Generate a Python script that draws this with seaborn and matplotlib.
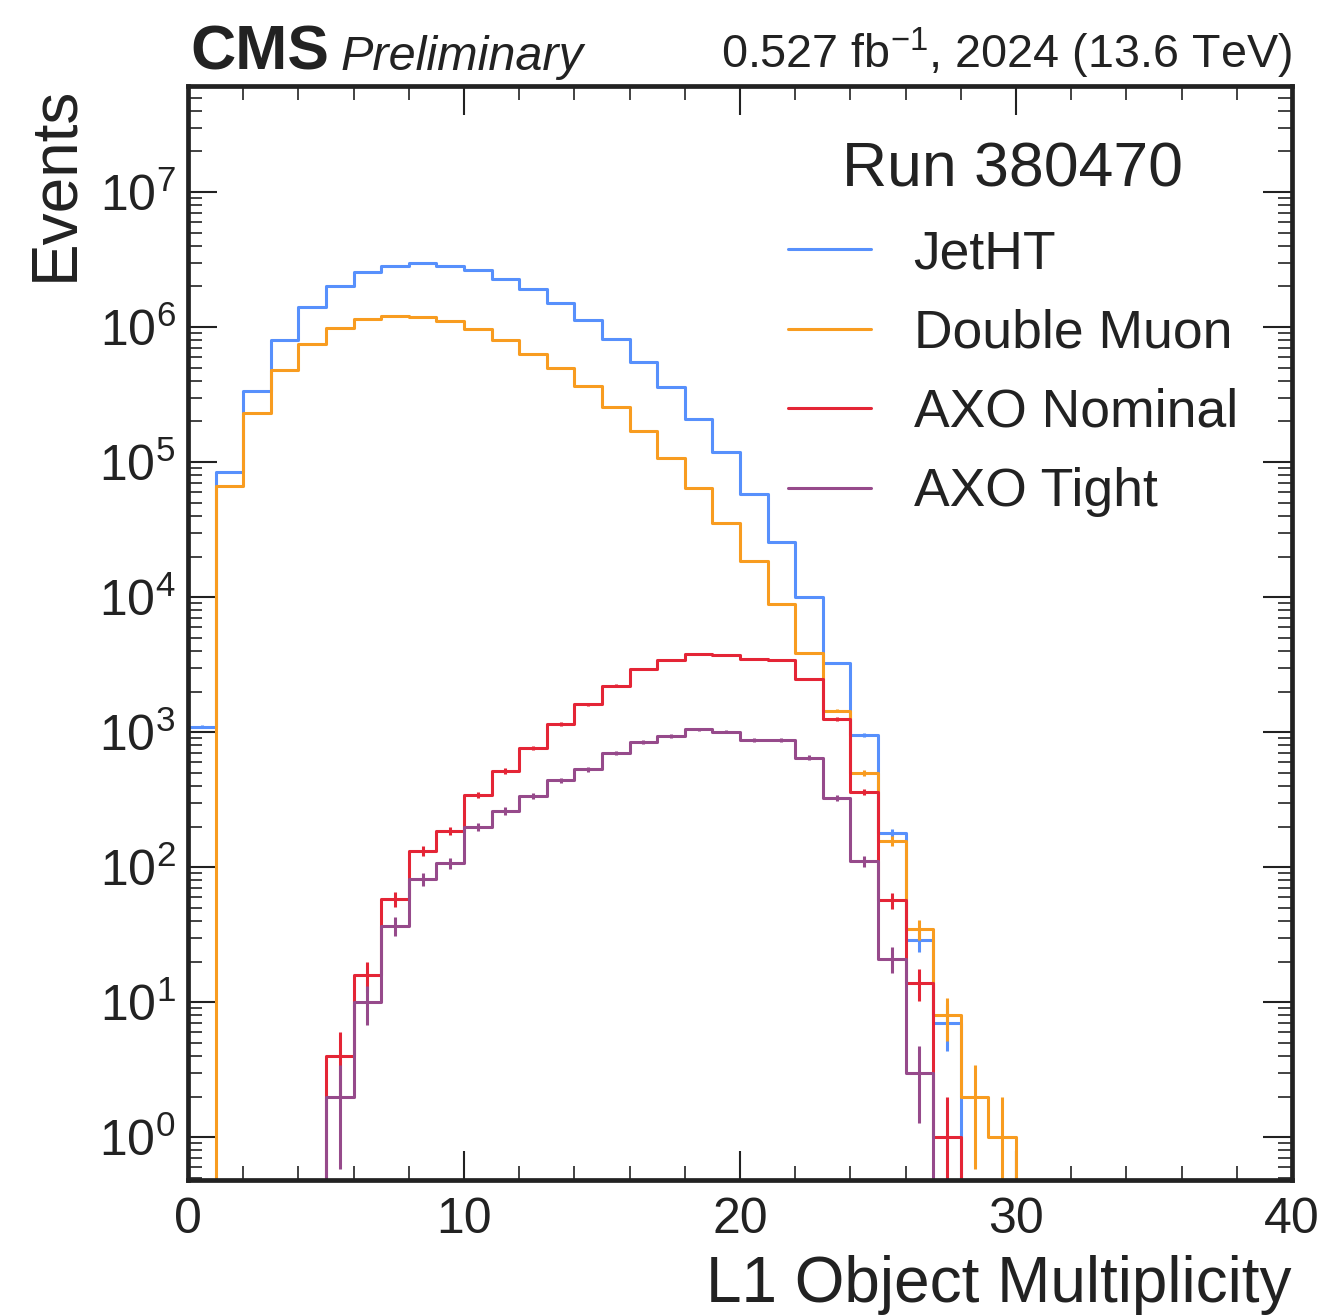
import numpy as np
import pandas as pd
import matplotlib
matplotlib.use("Agg")
import matplotlib.pyplot as plt
import seaborn as sns
from matplotlib.lines import Line2D
from matplotlib.ticker import MultipleLocator, LogLocator, NullFormatter, LogFormatterSciNotation

# ---------------- data ----------------
bin_edges = list(range(0, 41))
samples = ["JetHT", "Double Muon", "AXO Nominal", "AXO Tight"]
jetht = [1100, 85000, 337000, 800000, 1410000, 2020000, 2540000, 2840000, 2980000,
         2840000, 2630000, 2280000, 1900000, 1500000, 1130000, 815000, 547000, 357000,
         209000, 118000, 58000, 25800, 10000, 3280, 950, 180, 29, 7] + [0] * 12
double_muon = [0, 67000, 231000, 480000, 750000, 990000, 1150000, 1210000, 1190000,
               1100000, 960000, 800000, 637000, 495000, 366000, 258000, 171000, 108000,
               64000, 35700, 18600, 8900, 3850, 1440, 500, 157, 35, 8, 2, 1] + [0] * 10
axo_nominal = [0, 0, 0, 0, 0, 4, 16, 58, 133, 186, 343, 517, 761, 1150, 1610, 2210,
               2930, 3410, 3800, 3740, 3510, 3410, 2470, 1250, 363, 57, 14, 1] + [0] * 12
axo_tight = [0, 0, 0, 0, 0, 2, 10, 37, 82, 107, 200, 261, 337, 440, 533, 699, 851,
             943, 1050, 1010, 877, 877, 649, 326, 111, 21, 3] + [0] * 13
colors = ["#5790fc", "#f89c20", "#e42536", "#964a8b"]
x_ticks = [0, 10, 20, 30, 40]

series = [jetht, double_muon, axo_nominal, axo_tight]
edges_arr = np.asarray(bin_edges, dtype=float)
centers = (edges_arr[:-1] + edges_arr[1:]) / 2.0

# ---------------- style ----------------
sns.set_theme(style="ticks")
plt.rcParams['font.family'] = ['Liberation Sans', 'DejaVu Sans']
plt.rcParams['mathtext.fontset'] = 'custom'
plt.rcParams['mathtext.rm'] = 'Liberation Sans'
plt.rcParams['mathtext.it'] = 'Liberation Sans:italic'
plt.rcParams['mathtext.bf'] = 'Liberation Sans:bold'
plt.rcParams['mathtext.default'] = 'regular'
ink = "#222222"
plt.rcParams['text.color'] = ink
plt.rcParams['axes.labelcolor'] = ink
plt.rcParams['xtick.color'] = ink
plt.rcParams['ytick.color'] = ink

W, H = 1322, 1315
fig = plt.figure(figsize=(W / 100, H / 100), dpi=100)
ax_left, ax_right, ax_top, ax_bot = 188, 1292, 86, 1180
ax = fig.add_axes([ax_left / W, 1 - ax_bot / H, (ax_right - ax_left) / W, (ax_bot - ax_top) / H])
ax.set_yscale("log")

lw = 2.2
for name, vals, c in zip(samples, series, colors):
    vals = np.asarray(vals, dtype=float)
    df = pd.DataFrame({"x": centers, "w": vals})
    sns.histplot(data=df, x="x", weights="w", bins=bin_edges, element="step",
                 fill=False, color=c, linewidth=lw, ax=ax)
    m = vals > 0
    ax.errorbar(centers[m], vals[m], yerr=np.sqrt(vals[m]), fmt="none",
                ecolor=c, elinewidth=lw, capsize=0)

ax.set_xlim(0, 40)
ax.set_ylim(0.483, 6.1e7)

ax.xaxis.set_major_locator(MultipleLocator(10))
ax.xaxis.set_minor_locator(MultipleLocator(2))
ax.set_xticks(x_ticks)
ax.yaxis.set_major_locator(LogLocator(base=10, numticks=30))
ax.yaxis.set_minor_locator(LogLocator(base=10, subs=np.arange(2, 10), numticks=30))
ax.yaxis.set_minor_formatter(NullFormatter())
ax.yaxis.set_major_formatter(LogFormatterSciNotation())

ax.tick_params(which="both", direction="in", top=True, right=True, labelsize=36)
ax.tick_params(which="major", length=21, width=1.5)
ax.tick_params(which="minor", length=10, width=1.2)
ax.tick_params(axis="x", which="major", pad=12)
ax.tick_params(axis="y", which="major", pad=9)
for s in ax.spines.values():
    s.set_linewidth(3.4)
    s.set_color(ink)

ax.set_xlabel("L1 Object Multiplicity", fontsize=46, loc="right")
ax.set_ylabel("Events", fontsize=46, loc="top")
ax.xaxis.set_label_coords(1.0, -0.069)
ax.yaxis.set_label_coords(-0.093, 1.0)

handles = [Line2D([], [], color=c, lw=lw) for c in colors]
leg = ax.legend(handles, samples, title="Run 380470", loc="upper right",
                bbox_to_anchor=(0.951, 0.950), frameon=False, fontsize=38.5,
                title_fontsize=45, handlelength=1.55, labelspacing=0.55,
                borderaxespad=0, borderpad=0)

fig.text(190 / W, 1 - 70 / H, "CMS", fontsize=45, fontweight="bold", ha="left", va="baseline")
fig.text(340 / W, 1 - 70 / H, "Preliminary", fontsize=35, fontstyle="italic", ha="left", va="baseline")
fig.text(1292 / W, 1 - 68 / H, r"0.527 fb$^{-1}$, 2024 (13.6 TeV)", fontsize=33.7, ha="right", va="baseline")

fig.savefig("out.png", dpi=100)
